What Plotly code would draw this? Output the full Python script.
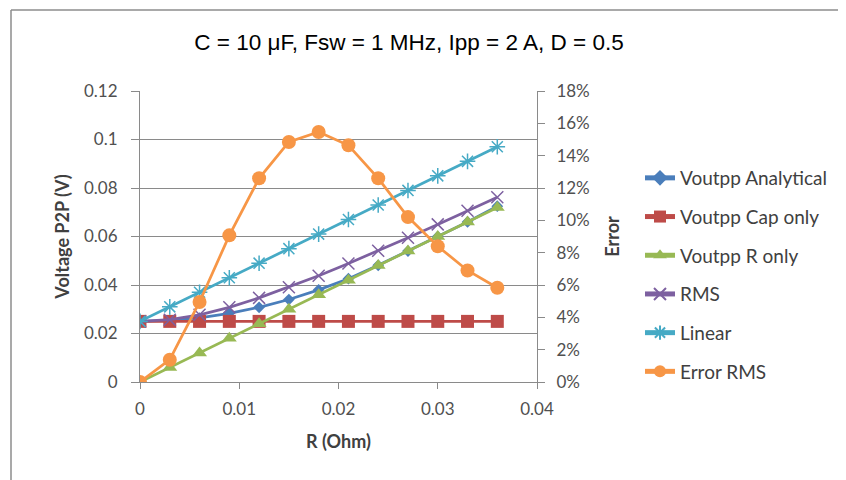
import plotly.graph_objects as go

# ---- data ----
r_ohm = [0, 0.003, 0.006, 0.009, 0.012, 0.015, 0.018, 0.021, 0.024, 0.027, 0.030, 0.033, 0.036]
voutpp_analytical = [0.025, 0.0254, 0.0264, 0.0283, 0.0308, 0.0340, 0.0380, 0.0426, 0.0481, 0.0540, 0.0600, 0.0660, 0.0725]
voutpp_cap_only = [0.025] * 13
voutpp_r_only = [0, 0.006, 0.012, 0.018, 0.024, 0.030, 0.036, 0.042, 0.048, 0.054, 0.060, 0.066, 0.072]
rms = [0.025, 0.0257, 0.0277, 0.0308, 0.0347, 0.0391, 0.0438, 0.0489, 0.0541, 0.0595, 0.0650, 0.0706, 0.0762]
linear = [0.025, 0.031, 0.037, 0.043, 0.049, 0.055, 0.061, 0.067, 0.073, 0.079, 0.085, 0.091, 0.097]
error_rms = [0.0, 0.0138, 0.0495, 0.0907, 0.126, 0.1485, 0.1546, 0.1464, 0.126, 0.102, 0.084, 0.069, 0.0583]

title_text = "C = 10 μF, Fsw = 1 MHz, Ipp = 2 A, D = 0.5"

# page has an 8px body margin; figure coordinates = page coordinates - 8
OFF = 8
W, H = 846 - OFF, 480 - OFF
L = 140 - OFF
T = 91 - OFF
R_ = W - (537 - OFF)
B = H - (382 - OFF)
pw = W - L - R_
ph = H - T - B

FONT = "Lato"
TICKC = "#505050"
TITC = "#404040"
GRID = "#8a8a8a"

fig = go.Figure()

def add(name, y, color, symbol, size, yaxis="y"):
    fig.add_trace(go.Scatter(
        x=r_ohm, y=y, name=name, mode="lines+markers", yaxis=yaxis,
        line=dict(color=color, width=2.75),
        marker=dict(color=color, symbol=symbol, size=size,
                    line=dict(color=color, width=1.5 if "open" in symbol else 0)),
        legendgroup=name,
    ))

add("Voutpp Analytical", voutpp_analytical, "#4A7EBB", "diamond", 9)
add("Voutpp Cap only", voutpp_cap_only, "#BE4B48", "square", 13)
add("Voutpp R only", voutpp_r_only, "#98B954", "triangle-up", 13)
add("RMS", rms, "#7D60A0", "x-thin-open", 12)
add("Linear", linear, "#46AAC5", "asterisk-open", 13)
add("Error RMS", error_rms, "#F79646", "circle", 14, yaxis="y2")

tickfont = dict(family=FONT, size=17, color=TICKC)
titfont = dict(family=FONT, size=18, color=TITC)

fig.update_layout(
    width=W, height=H,
    margin=dict(l=L, r=R_, t=T, b=B, autoexpand=False),
    paper_bgcolor="white", plot_bgcolor="white",
    title=dict(text=title_text, x=(409 - OFF) / W, xanchor="center",
               y=1 - (42 - OFF) / H, yanchor="middle",
               xref="container", yref="container",
               font=dict(family="Liberation Sans", size=22.5, color="black")),
    xaxis=dict(range=[0, 0.04], dtick=0.01, tick0=0, showgrid=False,
               showline=True, linecolor=GRID, linewidth=1,
               ticks="outside", ticklen=6, tickcolor=GRID, ticklabelstandoff=6,
               tickfont=tickfont,
               title=dict(text="<b>R (Ohm)</b>", font=titfont, standoff=16),
               zeroline=False),
    yaxis=dict(range=[0, 0.12], dtick=0.02, tick0=0, showgrid=True, gridcolor=GRID, gridwidth=1,
               showline=True, linecolor=GRID, linewidth=1,
               ticks="outside", ticklen=8, tickcolor=GRID, ticklabelstandoff=10,
               tickfont=tickfont,
               title=dict(text="<b>Voltage P2P (V)</b>", font=titfont, standoff=9),
               zeroline=False),
    yaxis2=dict(range=[0, 0.18], dtick=0.02, tick0=0, overlaying="y", side="right",
                showgrid=False, showline=True, linecolor=GRID, linewidth=1,
                ticks="outside", ticklen=7, tickcolor=GRID, tickformat=".0%", ticklabelstandoff=8,
                tickfont=tickfont,
                title=dict(text="<b>Error</b>", font=titfont, standoff=17),
                zeroline=False),
    legend=dict(x=(640 - OFF - L) / pw, y=(H - B - (159 - OFF)) / ph, xanchor="left", yanchor="top",
                font=dict(family=FONT, size=19, color=TITC),
                tracegroupgap=11, traceorder="grouped", itemsizing="constant",
                bgcolor="rgba(0,0,0,0)"),
    showlegend=True,
)

# outer chart border (top and left edges visible)
bx = (11 - OFF - L) / pw
by = (H - B - (10 - OFF)) / ph
fig.add_shape(type="line", xref="paper", yref="paper", x0=bx, x1=(W - L) / pw, y0=by, y1=by,
              line=dict(color="#8c8c8c", width=1.5))
fig.add_shape(type="line", xref="paper", yref="paper", x0=bx, x1=bx, y0=by, y1=-B / ph,
              line=dict(color="#8c8c8c", width=1.5))

fig.write_html("out.html")
